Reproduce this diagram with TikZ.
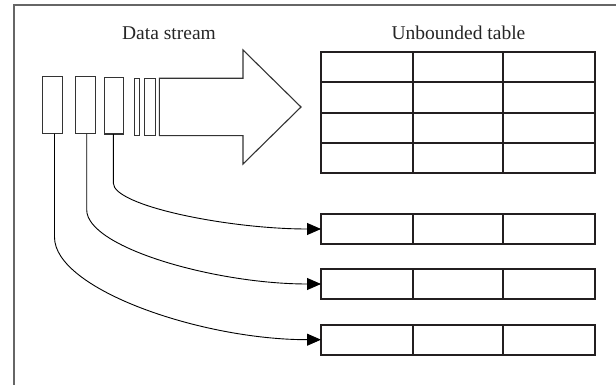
\documentclass[tikz,border=0pt]{standalone}
\usepackage{fontspec}
\setmainfont{Liberation Serif}
\usetikzlibrary{arrows.meta}
\definecolor{tabc}{HTML}{231F20}
\definecolor{framec}{HTML}{666666}
\definecolor{streamc}{HTML}{333333}
\begin{document}
\begin{tikzpicture}[x=1pt,y=-1pt,
  framel/.style={draw=framec,line width=2pt},
  sbox/.style={draw=streamc,line width=1.1pt,inner sep=0pt,outer sep=0pt},
  tbl/.style={draw=tabc,line width=2.2pt,inner sep=0pt,outer sep=0pt,minimum width=274pt,minimum height=30pt},
  tline/.style={draw=tabc,line width=2.2pt},
  flow/.style={draw=black,line width=0.9pt,-{Triangle[length=14pt,width=12pt]}},
  lbl/.style={font=\fontsize{19.5}{22}\selectfont,text=black!85,inner sep=0pt}
]
\useasboundingbox (0,0) rectangle (616,385);
% frame
\draw[framel] (14,386) -- (14,5) -- (617,5);
% labels
\node[lbl,anchor=base] (ds) at (169,40) {Data stream};
\node[lbl,anchor=base] (ut) at (458.5,40) {Unbounded table};
% stream boxes
\node[sbox,minimum width=19.6pt,minimum height=57pt] (b1) at (52.5,105.2) {};
\node[sbox,minimum width=19.7pt,minimum height=57pt] (b2) at (85.2,105.3) {};
\node[sbox,minimum width=19.7pt,minimum height=56.3pt] (b3) at (113.9,105.9) {};
\node[sbox,minimum width=5.3pt,minimum height=56.6pt] (b4) at (136.7,107) {};
\node[sbox,minimum width=11.3pt,minimum height=56.6pt] (b5) at (149.7,107) {};
% big arrow
\draw[draw=streamc,line width=1.1pt,line join=miter]
  (159.3,78.3) -- (243,78.3) -- (243,50) -- (301,107) -- (243,164) -- (243,135.7) -- (159.3,135.7) -- cycle;
% unbounded table
\draw[tline] (321,52) rectangle (595,173);
\foreach \yy in {82,113,143} \draw[tline] (321,\yy) -- (595,\yy);
\foreach \xx in {413,503} \draw[tline] (\xx,52) -- (\xx,173);
% small tables
\node[tbl] (t1) at (458,229) {};
\node[tbl] (t2) at (458,284) {};
\node[tbl] (t3) at (458,339.7) {};
\foreach \t in {t1,t2,t3}{
  \draw[tline] ([xshift=-45pt]\t.north) -- ([xshift=-45pt]\t.south);
  \draw[tline] ([xshift=45pt]\t.north) -- ([xshift=45pt]\t.south);
}
% connectors
\draw[flow] ([xshift=-0.6pt]b3.south) -- ++(0,49) .. controls +(0,23) and +(-92,0) .. (t1.west);
\draw[flow] ([xshift=1.5pt]b2.south) -- ++(0,76) .. controls +(0,38) and +(-105,0) .. (t2.west);
\draw[flow] ([xshift=2pt]b1.south) -- ++(0,103.5) .. controls +(0,52) and +(-120,0) .. (t3.west);
\end{tikzpicture}
\end{document}
